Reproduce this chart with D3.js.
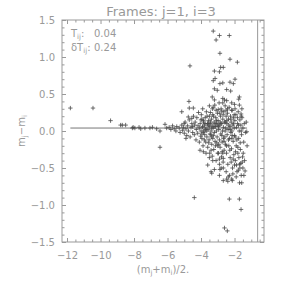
<!DOCTYPE html>
<html>
<head>
<meta charset="utf-8">
<script src="https://cdn.jsdelivr.net/npm/d3@7"></script>
<style>
  body { margin: 0; background: #fff; }
  text { font-family: "DejaVu Sans", sans-serif; fill: #999; }
</style>
</head>
<body>
<svg width="283" height="283"></svg>
<script>
// values
const xTicks = [-12, -10, -8, -6, -4, -2];
const yTicks = [-1.5, -1.0, -0.5, 0.0, 0.5, 1.0, 1.5];
const titleText = "Frames: j=1, i=3";
const tij = 0.04, dtij = 0.24;
const limitMag = -0.62;

// (m_j+m_i)/2 and m_j-m_i for each star
const magMean = [
  -11.8, -10.45, -9.4, -8.8, -8.7, -8.5, -8.1, -8.05, -7.95, -7.7, -7.6, -7.35, -7.05, -6.9, -6.65, -6.45, -6.45, -6.15, -6.05,
  -5.9, -5.8, -5.7, -5.6, -5.5, -5.45, -5.3, -5.25, -5.15, -5.1, -5.05, -5.0, -5.0, -5.15,
  -4.95, -4.9, -4.85, -4.8, -4.75, -4.7, -4.65, -4.6, -4.55, -4.5, -4.5, -4.9, -4.76, -4.55,
  -4.45, -4.4, -4.38, -4.35, -4.3, -4.28, -4.25, -4.2, -4.18, -4.15, -4.1, -4.1, -4.05, -4.02, -4.0, -4.0,
  -3.98, -3.95, -3.92, -3.9, -3.88, -3.85, -3.82, -3.8, -3.78, -3.75, -3.72, -3.7, -3.68, -3.65, -3.62, -3.6, -3.58, -3.55, -3.52, -3.5, -3.5,
  -3.48, -3.46, -3.44, -3.42, -3.4, -3.38, -3.36, -3.34, -3.32, -3.3, -3.28, -3.26, -3.24, -3.22, -3.2, -3.18, -3.16, -3.14, -3.12, -3.1, -3.08, -3.06, -3.04, -3.02, -3.0,
  -2.98, -2.96, -2.94, -2.92, -2.9, -2.88, -2.86, -2.84, -2.82, -2.8, -2.78, -2.76, -2.74, -2.72, -2.7, -2.68, -2.66, -2.64, -2.62, -2.6, -2.58, -2.56, -2.54, -2.52, -2.5,
  -2.48, -2.46, -2.44, -2.42, -2.4, -2.38, -2.36, -2.34, -2.32, -2.3, -2.28, -2.26, -2.24, -2.22, -2.2, -2.18, -2.16, -2.14, -2.12, -2.1, -2.08, -2.06, -2.04, -2.02, -2.0,
  -1.98, -1.95, -1.92, -1.9, -1.88, -1.85, -1.82, -1.8, -1.78, -1.75, -1.72, -1.7, -1.68, -1.65, -1.62, -1.6, -1.58, -1.55, -1.52, -1.5, -1.45, -1.42, -1.4, -1.35, -1.3, -1.25,
  -3.9, -3.86, -3.76, -3.66, -3.56, -3.46, -3.36, -3.26, -3.16, -3.06, -2.96, -2.86, -2.76, -2.66, -2.56, -2.46, -2.36, -2.26, -2.16, -2.06, -1.96, -1.86, -1.76, -1.66, -1.56,
  -3.94, -3.7, -3.4, -3.1, -2.8, -2.5, -2.2, -1.9, -2.6, -2.3, -2.0, -1.7, -1.5, -2.9, -3.2,
  -3.95, -3.85, -3.8, -3.74, -3.64, -3.6, -3.54, -3.44, -3.38, -3.3, -3.22, -3.14, -3.08, -3.0, -2.94, -2.88, -2.82, -2.74, -2.68, -2.62,
  -2.54, -2.48, -2.42, -2.34, -2.28, -2.22, -2.14, -2.08, -2.02, -1.94, -1.88, -1.82, -1.74, -1.68, -1.6, -1.54, -1.48, -1.44, -3.5, -3.0,
  -2.5, -2.0, -1.8, -2.7, -3.3, -2.4, -2.1, -1.6, -3.6, -2.9,
  -3.27, -2.9, -2.31, -3.1, -2.87, -2.27, -1.83, -4.66, -2.83, -2.67, -3.2, -2.9, -3.16, -3.27, -2.7, -1.97, -2.27, -2.07, -2.87, -3.2,
  -3.03, -2.47, -2.23, -3.33, -2.7, -1.71, -1.75, -2.47, -2.7, -2.17, -4.72, -3.5, -1.71, -4.7, -4.46, -3.27, -2.97, -2.76, -2.17, -1.97, -1.61,
  -4.06, -3.86, -3.33, -3.4, -3.36, -3.2, -2.87, -2.67, -2.9, -2.67, -2.37, -2.47, -2.67, -2.17, -2.13, -1.57, -1.77, -1.37, -1.63,
  -4.4, -2.31, -1.71, -1.61, -2.43, -2.6, -1.27
];
const magDiff = [
  0.31, 0.31, 0.14, 0.08, 0.08, 0.08, 0.04, 0.05, 0.04, 0.05, 0.03, 0.04, 0.04, 0.05, 0.03, 0.0, -0.22, 0.09, 0.04,
  0.05, 0.02, 0.07, 0.03, 0.0, 0.06, 0.04, -0.02, 0.08, 0.01, 0.05, -0.03, 0.1, 0.26,
  0.12, 0.03, -0.06, 0.07, 0.0, 0.15, -0.08, 0.05, 0.1, -0.02, 0.06, -0.1, 0.19, 0.17,
  0.2, -0.05, 0.08, 0.12, -0.12, 0.02, 0.18, -0.03, 0.07, 0.25, -0.15, 0.04, 0.1, -0.07, 0.15, 0.0,
  0.22, -0.1, 0.05, 0.3, -0.2, 0.12, 0.0, 0.08, -0.05, 0.18, -0.15, 0.04, 0.26, -0.08, 0.1, -0.22, 0.02, 0.14, -0.12, 0.06, 0.2,
  -0.3, 0.1, 0.25, -0.05, 0.0, 0.16, -0.18, 0.08, 0.3, -0.1, 0.04, 0.2, -0.25, 0.12, -0.02, 0.35, -0.14, 0.06, 0.18, -0.4, 0.0, 0.1, -0.08, 0.24, -0.2,
  0.14, -0.3, 0.02, 0.38, -0.12, 0.08, -0.22, 0.2, -0.04, 0.3, -0.35, 0.1, -0.15, 0.0, 0.16, -0.42, 0.05, 0.26, -0.26, 0.12, -0.08, 0.34, -0.18, 0.04, 0.2,
  -0.3, 0.1, -0.05, 0.24, -0.45, 0.02, 0.16, -0.2, 0.32, -0.1, 0.06, -0.36, 0.2, -0.02, 0.12, -0.24, 0.0, 0.28, -0.5, 0.08, -0.14, 0.18, -0.32, 0.04, -0.06,
  0.14, -0.4, 0.22, -0.2, 0.05, -0.55, 0.1, -0.3, 0.26, -0.1, 0.0, -0.45, 0.15, -0.25, 0.08, -0.6, -0.05, 0.18, -0.35, 0.04, -0.15, 0.1, -0.4, -0.02, 0.12, -0.2,
  0.06, -0.02, 0.1, 0.0, 0.08, -0.04, 0.04, -0.06, 0.1, -0.16, 0.06, 0.12, -0.06, -0.1, 0.0, 0.14, -0.12, 0.02, -0.1, 0.1, -0.08, -0.12, 0.08, -0.16, 0.3,
  0.16, -0.3, -0.26, 0.28, -0.5, -0.55, -0.42, -0.62, 0.42, -0.6, 0.36, -0.7, -0.5, -0.45, 0.42,
  -0.04, 0.14, -0.12, 0.02, 0.2, 0.1, -0.16, 0.12, -0.08, 0.22, 0.06, -0.2, 0.14, 0.08, -0.18, 0.24, 0.1, -0.28, 0.22, -0.14,
  0.12, -0.2, 0.3, 0.08, -0.26, 0.16, -0.06, -0.38, 0.22, -0.28, -0.46, 0.18, -0.36, -0.5, 0.2, -0.42, -0.3, -0.6, -0.36, -0.3,
  0.28, -0.46, -0.22, -0.3, -0.4, -0.68, -0.58, 0.0, -0.46, -0.6,
  1.35, 1.29, 1.29, 1.23, 1.05, 0.97, 0.93, 0.88, 0.86, 0.86, 0.81, 0.8, 0.71, 0.68, 0.65, 0.7, 0.66, 0.64, 0.64, 0.57,
  0.55, 0.56, 0.54, 0.46, 0.44, 0.46, 0.43, 0.41, 0.38, 0.38, 0.4, 0.34, 0.35, 0.31, 0.31, 0.32, 0.29, 0.27, 0.28, 0.3, 0.23,
  -0.26, -0.28, -0.34, -0.55, -0.57, -0.52, -0.52, -0.5, -0.38, -0.37, -0.62, -0.65, -0.67, -0.65, -0.67, -0.7, -0.53, -0.54, -0.44,
  -0.9, -0.92, -0.92, -1.06, -1.35, -1.31, -0.01
];

const stars = magMean.map((m, i) => ({mean: m, diff: magDiff[i]}));

const svg = d3.select("svg");
const plotLeft = 62, plotRight = 264, plotTop = 20, plotBottom = 242;

const x = d3.scaleLinear().domain([-12.3, -0.24]).range([plotLeft, plotRight]);
const y = d3.scaleLinear().domain([-1.5, 1.5]).range([plotBottom, plotTop]);

const axisColor = "#999";

// minor ticks
const xMinor = d3.range(-12, -0.24, 0.5).filter(v => !xTicks.includes(v));
const yMinor = d3.range(-1.5, 1.5001, 0.1).map(v => Math.round(v * 10) / 10)
  .filter(v => !yTicks.some(t => Math.abs(t - v) < 1e-6));

function styleAxis(g) {
  g.select(".domain").remove();
  g.selectAll("line").attr("stroke", axisColor);
  g.selectAll("text").attr("fill", axisColor).attr("font-size", "10px")
    .attr("font-family", "DejaVu Sans, sans-serif");
}

// bottom
svg.append("g").attr("transform", `translate(0,${plotBottom})`)
  .call(d3.axisBottom(x).tickValues(xTicks).tickSize(-4).tickPadding(10).tickFormat(d3.format("d")))
  .call(styleAxis);
svg.append("g").attr("transform", `translate(0,${plotBottom})`)
  .call(d3.axisBottom(x).tickValues(xMinor).tickSize(-2.5).tickFormat(""))
  .call(styleAxis);
// top
svg.append("g").attr("transform", `translate(0,${plotTop})`)
  .call(d3.axisTop(x).tickValues(xTicks).tickSize(-4).tickFormat(""))
  .call(styleAxis);
svg.append("g").attr("transform", `translate(0,${plotTop})`)
  .call(d3.axisTop(x).tickValues(xMinor).tickSize(-2.5).tickFormat(""))
  .call(styleAxis);
// left
svg.append("g").attr("transform", `translate(${plotLeft},0)`)
  .call(d3.axisLeft(y).tickValues(yTicks).tickSize(-4).tickPadding(7).tickFormat(d3.format(".1f")))
  .call(styleAxis);
svg.append("g").attr("transform", `translate(${plotLeft},0)`)
  .call(d3.axisLeft(y).tickValues(yMinor).tickSize(-2.5).tickFormat(""))
  .call(styleAxis);
// right
svg.append("g").attr("transform", `translate(${plotRight},0)`)
  .call(d3.axisRight(y).tickValues(yTicks).tickSize(-4).tickFormat(""))
  .call(styleAxis);
svg.append("g").attr("transform", `translate(${plotRight},0)`)
  .call(d3.axisRight(y).tickValues(yMinor).tickSize(-2.5).tickFormat(""))
  .call(styleAxis);

// frame
svg.append("rect")
  .attr("x", plotLeft).attr("y", plotTop)
  .attr("width", plotRight - plotLeft).attr("height", plotBottom - plotTop)
  .attr("fill", "none").attr("stroke", axisColor).attr("stroke-width", 1);

// mean offset line
const ext = d3.extent(magMean);
svg.append("line")
  .attr("x1", x(ext[0])).attr("x2", x(ext[1]))
  .attr("y1", y(tij)).attr("y2", y(tij))
  .attr("stroke", "#777").attr("stroke-width", 1);

// magnitude limit
svg.append("line")
  .attr("x1", x(limitMag)).attr("x2", x(limitMag))
  .attr("y1", plotTop).attr("y2", plotBottom)
  .attr("stroke", axisColor).attr("stroke-width", 1);

// points
svg.append("g").selectAll("path").data(stars).enter().append("path")
  .attr("transform", d => `translate(${x(d.mean)},${y(d.diff)})`)
  .attr("d", "M-2.2,0H2.2M0,-2.2V2.2")
  .attr("stroke", "#4a4a4a").attr("stroke-width", 0.8).attr("fill", "none");

// title
svg.append("text")
  .attr("x", 161).attr("y", 16)
  .attr("text-anchor", "middle").attr("font-size", "13px")
  .text(titleText);

// annotation
const ann = svg.append("g").attr("font-size", "10px");
const t1 = ann.append("text").attr("x", 71).attr("y", 37);
t1.append("tspan").text("T");
t1.append("tspan").attr("font-size", "7px").attr("dy", 2).text("ij");
t1.append("tspan").attr("dy", -2).text(":");
ann.append("text").attr("x", 94).attr("y", 37).text(d3.format(".2f")(tij));
const t2 = ann.append("text").attr("x", 71).attr("y", 51);
t2.append("tspan").text("δT");
t2.append("tspan").attr("font-size", "7px").attr("dy", 2).text("ij");
t2.append("tspan").attr("dy", -2).text(":");
ann.append("text").attr("x", 94).attr("y", 51).text(d3.format(".2f")(dtij));

// x label
const xl = svg.append("text")
  .attr("x", (plotLeft + plotRight) / 2).attr("y", 273)
  .attr("text-anchor", "middle").attr("font-size", "10px");
xl.append("tspan").text("(m");
xl.append("tspan").attr("font-size", "7px").attr("dy", 2).text("j");
xl.append("tspan").attr("dy", -2).text("+m");
xl.append("tspan").attr("font-size", "7px").attr("dy", 2).text("i");
xl.append("tspan").attr("dy", -2).text(")/2.");

// y label
const yl = svg.append("text")
  .attr("transform", "translate(25,131) rotate(-90)")
  .attr("text-anchor", "middle").attr("font-size", "10px");
yl.append("tspan").text("m");
yl.append("tspan").attr("font-size", "7px").attr("dy", 2).text("j");
yl.append("tspan").attr("dy", -2).text("−m");
yl.append("tspan").attr("font-size", "7px").attr("dy", 2).text("i");
</script>
</body>
</html>
